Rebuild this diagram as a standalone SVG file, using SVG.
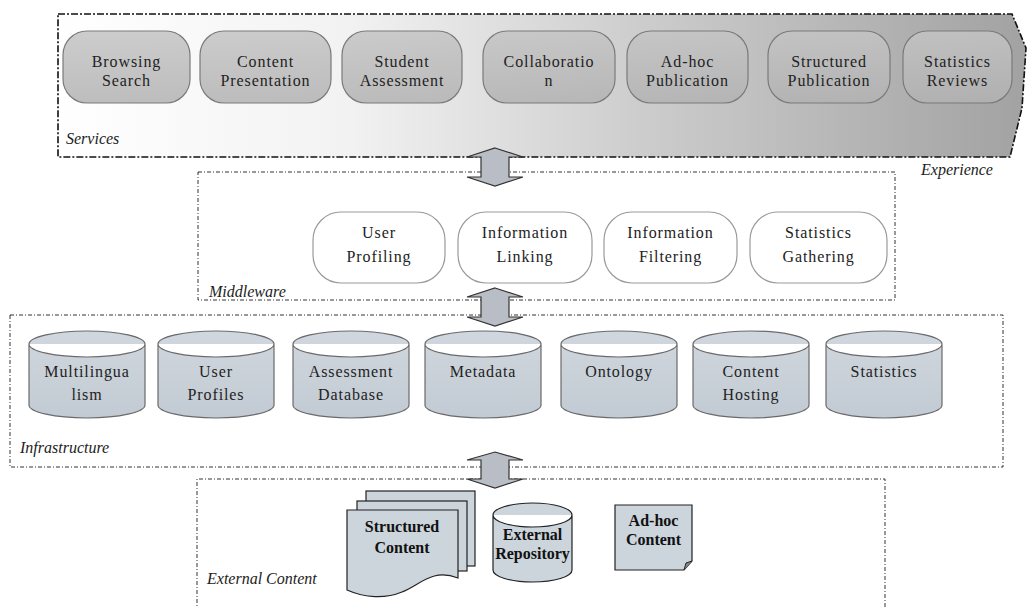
<svg xmlns="http://www.w3.org/2000/svg" width="1029" height="607" viewBox="0 0 1029 607">
<defs>
<linearGradient id="expGrad" x1="0" y1="0" x2="1" y2="0">
<stop offset="0" stop-color="#ffffff"/>
<stop offset="0.3" stop-color="#f2f2f2"/>
<stop offset="0.6" stop-color="#cdcdcd"/>
<stop offset="1" stop-color="#a2a2a2"/>
</linearGradient>
<linearGradient id="pillGrad" x1="0" y1="0" x2="0" y2="1">
<stop offset="0" stop-color="#c4c4c4"/>
<stop offset="1" stop-color="#b2b2b2"/>
</linearGradient>
<linearGradient id="cylGrad" x1="0" y1="0" x2="0" y2="1">
<stop offset="0" stop-color="#d0d7de"/>
<stop offset="1" stop-color="#c2cad3"/>
</linearGradient>
<style>
.layer{fill:none;stroke:#333;stroke-width:1;stroke-dasharray:4,2,1,2}
.svcbox{fill:url(#expGrad);stroke:#111;stroke-width:1.6;stroke-dasharray:7,2,2,2}
.svc{fill:url(#pillGrad);fill-opacity:0.85;stroke:#7a7a7a;stroke-width:1.2}
.mid{fill:#fff;stroke:#9a9a9a;stroke-width:1.2}
.cyl{fill:url(#cylGrad);stroke:#6a6a6a;stroke-width:1.2}
.doc{fill:#ccd4dc;stroke:#222;stroke-width:1.2}
.arrow{fill:#b9bdc5;stroke:#333;stroke-width:1.2}
.t{font-family:"Liberation Serif","Times New Roman",serif;font-size:16px;fill:#222;text-anchor:middle;letter-spacing:0.9px}
.tb{font-family:"Liberation Serif","Times New Roman",serif;font-size:16px;font-weight:bold;fill:#111;text-anchor:middle}
.lbl{font-family:"Liberation Serif","Times New Roman",serif;font-size:16px;font-style:italic;fill:#222}
</style>
</defs>

<g id="services-layer">
<path class="svcbox" d="M58,14 H1012 L1026,48 L1022,108 L1010,157 H58 Z"/>
<text class="lbl" x="66" y="144">Services</text>
<text class="lbl" x="921" y="175">Experience</text>
</g>

<g id="middleware-layer">
<rect class="layer" x="198" y="172" width="697" height="128"/>
<text class="lbl" x="209" y="297">Middleware</text>
</g>

<g id="infrastructure-layer">
<rect class="layer" x="10" y="315" width="993" height="152"/>
<text class="lbl" x="20" y="453">Infrastructure</text>
</g>

<g id="external-layer">
<path class="layer" d="M885,607 V479 H197 V607"/>
<text class="lbl" x="207" y="584">External Content</text>
</g>

<g id="svc-browsing"><rect class="svc" x="63" y="31" width="127" height="72" rx="24"/><text class="t" x="126.5" y="67">Browsing</text><text class="t" x="126.5" y="86">Search</text></g>
<g id="svc-content"><rect class="svc" x="200" y="31" width="131" height="72" rx="24"/><text class="t" x="265.5" y="67">Content</text><text class="t" x="265.5" y="86">Presentation</text></g>
<g id="svc-student"><rect class="svc" x="342" y="31" width="120" height="72" rx="24"/><text class="t" x="402" y="67">Student</text><text class="t" x="402" y="86">Assessment</text></g>
<g id="svc-collab"><rect class="svc" x="483" y="31" width="132" height="72" rx="24"/><text class="t" x="549" y="67">Collaboratio</text><text class="t" x="549" y="86">n</text></g>
<g id="svc-adhoc"><rect class="svc" x="627" y="31" width="121" height="72" rx="24"/><text class="t" x="687.5" y="67">Ad-hoc</text><text class="t" x="687.5" y="86">Publication</text></g>
<g id="svc-structured"><rect class="svc" x="768" y="31" width="122" height="72" rx="24"/><text class="t" x="829" y="67">Structured</text><text class="t" x="829" y="86">Publication</text></g>
<g id="svc-stats"><rect class="svc" x="903" y="31" width="109" height="72" rx="24"/><text class="t" x="957.5" y="67">Statistics</text><text class="t" x="957.5" y="86">Reviews</text></g>

<g id="mw-user"><rect class="mid" x="313" y="212" width="132" height="71" rx="28"/><text class="t" x="379" y="238">User</text><text class="t" x="379" y="262">Profiling</text></g>
<g id="mw-linking"><rect class="mid" x="458" y="212" width="134" height="71" rx="28"/><text class="t" x="525" y="238">Information</text><text class="t" x="525" y="262">Linking</text></g>
<g id="mw-filtering"><rect class="mid" x="604" y="212" width="133" height="71" rx="28"/><text class="t" x="670.5" y="238">Information</text><text class="t" x="670.5" y="262">Filtering</text></g>
<g id="mw-stats"><rect class="mid" x="750" y="212" width="137" height="71" rx="28"/><text class="t" x="818.5" y="238">Statistics</text><text class="t" x="818.5" y="262">Gathering</text></g>

<g id="db-multi"><path class="cyl" d="M29,344 A58,13 0 0 1 145,344 V405 A58,13 0 0 1 29,405 Z M29,344 A58,13 0 0 0 145,344"/><text class="t" x="87" y="377">Multilingua</text><text class="t" x="87" y="400">lism</text></g>
<g id="db-user"><path class="cyl" d="M158,344 A58,13 0 0 1 274,344 V405 A58,13 0 0 1 158,405 Z M158,344 A58,13 0 0 0 274,344"/><text class="t" x="216" y="377">User</text><text class="t" x="216" y="400">Profiles</text></g>
<g id="db-assess"><path class="cyl" d="M293,344 A58,13 0 0 1 409,344 V405 A58,13 0 0 1 293,405 Z M293,344 A58,13 0 0 0 409,344"/><text class="t" x="351" y="377">Assessment</text><text class="t" x="351" y="400">Database</text></g>
<g id="db-meta"><path class="cyl" d="M425,344 A58,13 0 0 1 541,344 V405 A58,13 0 0 1 425,405 Z M425,344 A58,13 0 0 0 541,344"/><text class="t" x="483" y="377">Metadata</text></g>
<g id="db-onto"><path class="cyl" d="M561,344 A58,13 0 0 1 677,344 V405 A58,13 0 0 1 561,405 Z M561,344 A58,13 0 0 0 677,344"/><text class="t" x="619" y="377">Ontology</text></g>
<g id="db-hosting"><path class="cyl" d="M693,344 A58,13 0 0 1 809,344 V405 A58,13 0 0 1 693,405 Z M693,344 A58,13 0 0 0 809,344"/><text class="t" x="751" y="377">Content</text><text class="t" x="751" y="400">Hosting</text></g>
<g id="db-stats"><path class="cyl" d="M826,344 A58,13 0 0 1 942,344 V405 A58,13 0 0 1 826,405 Z M826,344 A58,13 0 0 0 942,344"/><text class="t" x="884" y="377">Statistics</text></g>

<g id="ext-structured">
<rect class="doc" x="366" y="491" width="109" height="75"/>
<rect class="doc" x="357" y="501" width="110" height="70"/>
<path class="doc" d="M347,510 H458 V578 C432,568 420,585 402,592 C385,599 365,598 347,590 Z"/>
<text class="tb" x="402" y="532">Structured</text><text class="tb" x="402" y="553">Content</text>
</g>
<g id="ext-repo"><path class="doc" d="M493,515 A39.5,12 0 0 1 572,515 V570 A39.5,12 0 0 1 493,570 Z M493,515 A39.5,12 0 0 0 572,515"/><text class="tb" x="532.5" y="540">External</text><text class="tb" x="532.5" y="559">Repository</text></g>
<g id="ext-adhoc"><path class="doc" d="M615,505 H692 V561 L684,570 H615 Z"/><path d="M684,570 L686,563 L692,561" fill="#888" stroke="#222" stroke-width="1"/><text class="tb" x="653.5" y="526">Ad-hoc</text><text class="tb" x="653.5" y="545">Content</text></g>

<g id="connectors">
<path class="arrow" d="M495,148 L523,157 H509 V177 H523 L495,186 L467,177 H481 V157 H467 Z"/>
<path class="arrow" d="M495,288 L523,297 H509 V317 H523 L495,326 L467,317 H481 V297 H467 Z"/>
<path class="arrow" d="M495,452 L523,460 H509 V479 H523 L495,488 L467,479 H481 V460 H467 Z"/>
</g>
</svg>
